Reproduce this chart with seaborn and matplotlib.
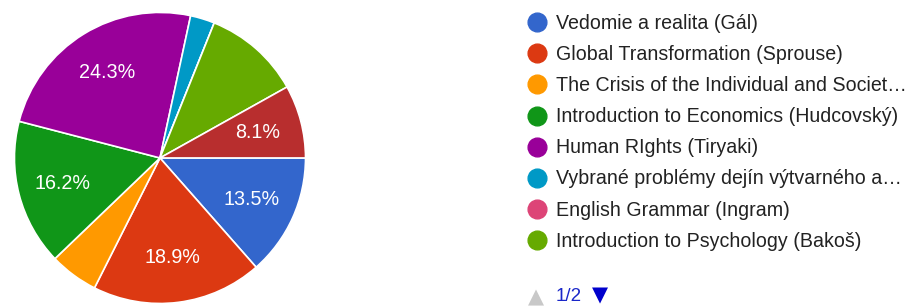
import matplotlib
matplotlib.use("Agg")
import matplotlib.pyplot as plt
from matplotlib.lines import Line2D
import seaborn as sns

# ---- data ----
categories = [
    "Vedomie a realita (Gál)",
    "Global Transformation (Sprouse)",
    "The Crisis of the Individual and Societ…",
    "Introduction to Economics (Hudcovský)",
    "Human RIghts (Tiryaki)",
    "Vybrané problémy dejín výtvarného a…",
    "English Grammar (Ingram)",
    "Introduction to Psychology (Bakoš)",
    "(page 2 item)",
]
counts = [5, 7, 2, 6, 9, 1, 0, 4, 3]
colors = ["#3366cc", "#dc3912", "#ff9900", "#109618", "#990099",
          "#0099c6", "#dd4477", "#66aa00", "#b82e2e"]
show_pct = [True, True, False, True, True, False, False, False, True]
legend_count = 8
page_label = "1/2"

sns.set_theme(style="white")
plt.rcParams["font.family"] = ["Liberation Sans", "DejaVu Sans"]

fig = plt.figure(figsize=(9.09, 3.06), dpi=100)
ax = fig.add_axes([0.0143, 0.0033, 0.3234, 0.961])

wedges, texts, autotexts = ax.pie(
    counts, colors=colors, startangle=0, counterclock=False,
    autopct="%1.1f%%", pctdistance=0.69,
    wedgeprops=dict(edgecolor="white", linewidth=1.2),
    textprops=dict(color="white", fontsize=14.2),
)
for t, s in zip(autotexts, show_pct):
    if not s:
        t.set_text("")
ax.set_xlim(-1.01, 1.01)
ax.set_ylim(-1.01, 1.01)
ax.set_aspect("equal")

handles = [Line2D([0], [0], marker="o", linestyle="", markersize=13.5,
                  markerfacecolor=colors[i], markeredgecolor=colors[i])
           for i in range(legend_count)]
leg = fig.legend(handles, categories[:legend_count], loc="upper left",
                 bbox_to_anchor=(0.569, 0.979), frameon=False, fontsize=14.1,
                 labelspacing=0.615, handletextpad=0.4, handlelength=1.2,
                 borderaxespad=0)
for t in leg.get_texts():
    t.set_color("#222222")

fig.text(0.590, -0.004, "▲", color="#c8c8c8", fontsize=15, ha="center",
         va="bottom", family="DejaVu Sans")
fig.text(0.611, 0.004, page_label, color="#1a27c9", fontsize=13.5, ha="left",
         va="bottom")
fig.text(0.660, 0.002, "▼", color="#0000cc", fontsize=15, ha="center",
         va="bottom", family="DejaVu Sans")

fig.savefig("out.png", dpi=100)
